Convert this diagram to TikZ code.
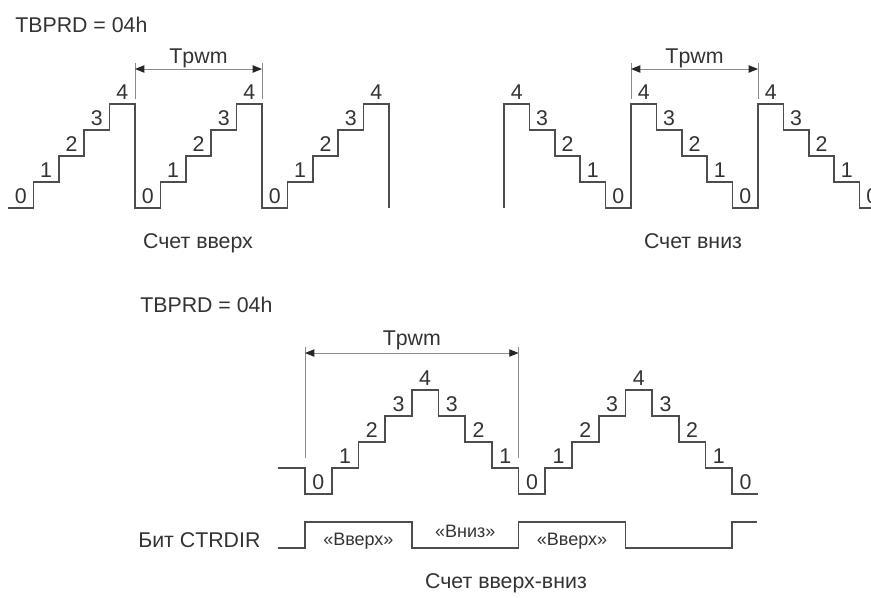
\documentclass[tikz,border=0pt]{standalone}
\usepackage{fontspec}
\setmainfont{Liberation Sans}
\usetikzlibrary{arrows.meta}
\definecolor{wavec}{HTML}{4D4D4D}
\definecolor{txtc}{HTML}{333333}
\definecolor{dimc}{HTML}{8C8C8C}
\begin{document}
\begin{tikzpicture}[x=0.75pt,y=-0.75pt,
  wave/.style={draw=wavec,line width=1.3pt,line join=miter},
  dimline/.style={draw=dimc,line width=0.7pt},
  dimarrow/.style={dimline,{Triangle[length=7pt,width=5.5pt,color=black!85]}-{Triangle[length=7pt,width=5.5pt,color=black!85]}},
  lbl/.style={text=txtc,font=\fontsize{16}{19}\selectfont,inner sep=0pt,anchor=base},
  lblw/.style={lbl,anchor=base west},
  smalllbl/.style={lbl,font=\fontsize{13.5}{16}\selectfont}]
\useasboundingbox (0,0) rectangle (871,597);
\clip (0,0) rectangle (871,597);

% ---------- titles ----------
\node[lblw] (t1) at (15,32) {TBPRD = 04h};
\node[lblw] (t2) at (140,312) {TBPRD = 04h};

% ---------- up count ----------
\draw[wave] (8,208) \foreach \k in {1,2,3} {
   \foreach \i in {1,...,4} { -- ++(25.4,0) -- ++(0,-26) } -- ++(25.4,0) -- ++(0,104) };
\foreach \k in {0,1,2} \foreach \i in {0,...,4}
  \node[lbl] (u\k\i) at ({8+127*\k+25.4*\i+12.7},{208-26*\i-5}) {\i};
\coordinate (ua1) at (135,63); \coordinate (ua2) at (135,99);
\coordinate (ub1) at (262,63); \coordinate (ub2) at (262,99);
\coordinate (ua) at (135,69); \coordinate (ub) at (262,69);
\draw[dimline] (ua1) -- (ua2);
\draw[dimline] (ub1) -- (ub2);
\draw[dimarrow] (ua) -- (ub);
\node[lbl] (tp1) at (198.5,63) {Tpwm};
\node[lbl] (c1) at (198,248) {Счет вверх};

% ---------- down count ----------
\draw[wave] (504,208) -- (504,104) \foreach \k in {1,2,3} {
   \foreach \i in {1,...,4} { -- ++(25.4,0) -- ++(0,26) } -- ++(25.4,0) -- ++(0,-104) };
\foreach \k in {0,1,2} \foreach \i in {0,...,4} {
  \pgfmathtruncatemacro\v{4-\i}
  \node[lbl] (d\k\i) at ({504+127*\k+25.4*\i+12.7},{208-26*\v-5}) {\v};
}
\coordinate (da1) at (631,63); \coordinate (da2) at (631,99);
\coordinate (db1) at (758,63); \coordinate (db2) at (758,99);
\coordinate (da) at (631,69); \coordinate (db) at (758,69);
\draw[dimline] (da1) -- (da2);
\draw[dimline] (db1) -- (db2);
\draw[dimarrow] (da) -- (db);
\node[lbl] (tp2) at (694.5,63) {Tpwm};
\node[lbl] (c2) at (693,248) {Счет вниз};

% ---------- up-down count ----------
\draw[wave] (278,468) -- (305,468) -- (305,494) \foreach \k in {1,2} {
   -- ++(26.7,0)
   \foreach \i in {1,...,4} { -- ++(0,-26) -- ++(26.7,0) }
   \foreach \i in {1,...,3} { -- ++(0,26) -- ++(26.7,0) }
   -- ++(0,26) } -- ++(25.5,0);
\foreach \k in {0,1} \foreach \v [count=\j from 0] in {0,1,2,3,4,3,2,1}
  \node[lbl] (b\k\j) at ({305+213.6*\k+26.7*\j+13.35},{494-26*\v-5}) {\v};
\node[lbl] (bend) at (745.5,489) {0};
\coordinate (ea1) at (305,347); \coordinate (ea2) at (305,458);
\coordinate (eb1) at (518.6,347); \coordinate (eb2) at (518.6,458);
\coordinate (ea) at (305,353); \coordinate (eb) at (518.6,353);
\draw[dimline] (ea1) -- (ea2);
\draw[dimline] (eb1) -- (eb2);
\draw[dimarrow] (ea) -- (eb);
\node[lbl] (tp3) at (411.8,345) {Tpwm};

% ---------- CTRDIR ----------
\node[lblw] (bit) at (138,547) {Бит CTRDIR};
\draw[wave] (278,548) -- (305,548) -- (305,522) -- (411.8,522) -- (411.8,548)
  -- (518.6,548) -- (518.6,522) -- (625.4,522) -- (625.4,548) -- (732.2,548)
  -- (732.2,522) -- (757,522);
\node[smalllbl] (v1) at (358.4,545) {«Вверх»};
\node[smalllbl] (v2) at (465.2,537) {«Вниз»};
\node[smalllbl] (v3) at (572,545) {«Вверх»};
\node[lbl] (c3) at (506,588) {Счет вверх-вниз};
\end{tikzpicture}
\end{document}
